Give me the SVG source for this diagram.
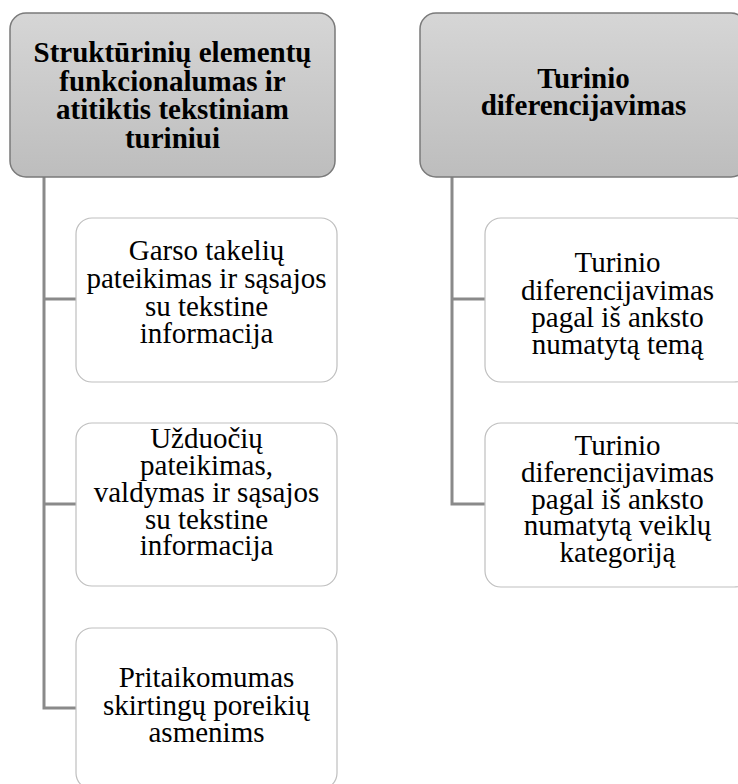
<svg xmlns="http://www.w3.org/2000/svg" width="738" height="784" viewBox="0 0 738 784">
<defs>
<linearGradient id="hdr" x1="0" y1="0" x2="0" y2="1">
<stop offset="0" stop-color="#d6d6d6"/>
<stop offset="1" stop-color="#bdbdbd"/>
</linearGradient>
<style>
.hdr{fill:url(#hdr);stroke:#7a7a7a;stroke-width:1.5}
.box{fill:#ffffff;stroke:#bfbfbf;stroke-width:1.2}
.ht{font-family:"Liberation Serif","Times New Roman",serif;font-weight:bold;font-size:29px;fill:#000;text-anchor:middle}
.bt{font-family:"Liberation Serif","Times New Roman",serif;font-size:29px;fill:#000;text-anchor:middle}
.con{fill:none;stroke:#8a8a8a;stroke-width:3}
</style>
</defs>
<rect width="738" height="784" fill="#ffffff"/>
<g id="connectors">
<path class="con" d="M44 177 V708 H76 M44 299 H76 M44 504 H76"/>
<path class="con" d="M452 177 V504 H485 M452 299 H485"/>
</g>
<g id="h1">
<rect class="hdr" x="10" y="13" width="325" height="164" rx="16"/>
<text class="ht"><tspan x="172.5" y="62">Struktūrinių elementų</tspan><tspan x="172.5" y="90.5">funkcionalumas ir</tspan><tspan x="172.5" y="119">atitiktis tekstiniam</tspan><tspan x="172.5" y="147.5">turiniui</tspan></text>
</g>
<g id="h2">
<rect class="hdr" x="420" y="13" width="327" height="164" rx="16"/>
<text class="ht"><tspan x="583.5" y="88">Turinio</tspan><tspan x="583.5" y="115">diferencijavimas</tspan></text>
</g>
<g id="c1">
<rect class="box" x="76" y="218" width="261" height="164" rx="16"/>
<text class="bt"><tspan x="206.5" y="260">Garso takelių</tspan><tspan x="206.5" y="288">pateikimas ir sąsajos</tspan><tspan x="206.5" y="315.5">su tekstine</tspan><tspan x="206.5" y="343">informacija</tspan></text>
</g>
<g id="c2">
<rect class="box" x="76" y="423" width="261" height="163" rx="16"/>
<text class="bt"><tspan x="206.5" y="448">Užduočių</tspan><tspan x="206.5" y="475">pateikimas,</tspan><tspan x="206.5" y="502">valdymas ir sąsajos</tspan><tspan x="206.5" y="528.5">su tekstine</tspan><tspan x="206.5" y="555">informacija</tspan></text>
</g>
<g id="c3">
<rect class="box" x="76" y="628" width="261" height="161" rx="16"/>
<text class="bt"><tspan x="206.5" y="687">Pritaikomumas</tspan><tspan x="206.5" y="715">skirtingų poreikių</tspan><tspan x="206.5" y="742">asmenims</tspan></text>
</g>
<g id="c4">
<rect class="box" x="485" y="218" width="265" height="164" rx="16"/>
<text class="bt"><tspan x="617.5" y="272">Turinio</tspan><tspan x="617.5" y="299.5">diferencijavimas</tspan><tspan x="617.5" y="327">pagal iš anksto</tspan><tspan x="617.5" y="354">numatytą temą</tspan></text>
</g>
<g id="c5">
<rect class="box" x="485" y="423" width="265" height="164" rx="16"/>
<text class="bt"><tspan x="617.5" y="455">Turinio</tspan><tspan x="617.5" y="482">diferencijavimas</tspan><tspan x="617.5" y="508.5">pagal iš anksto</tspan><tspan x="617.5" y="535">numatytą veiklų</tspan><tspan x="617.5" y="562">kategoriją</tspan></text>
</g>
</svg>
